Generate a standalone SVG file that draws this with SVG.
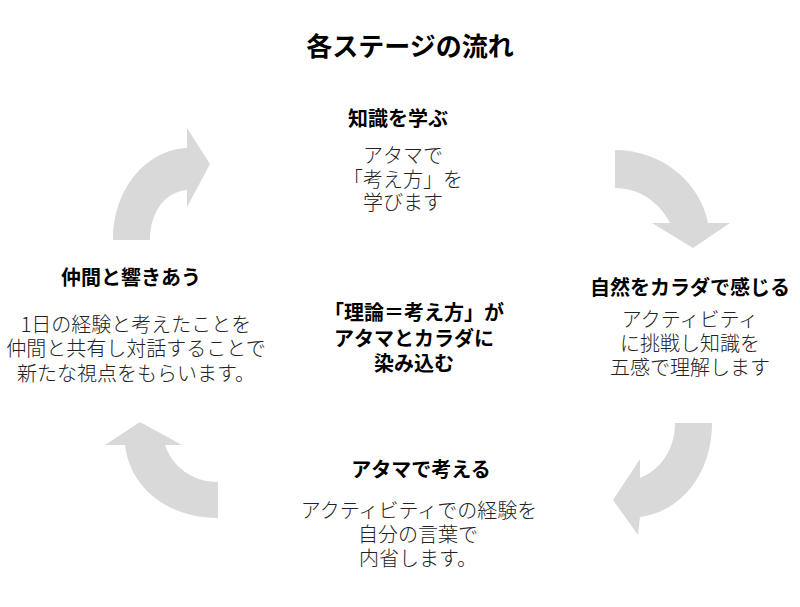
<svg xmlns="http://www.w3.org/2000/svg" width="800" height="607" viewBox="0 0 800 607">
<style>
text{font-family:"Noto Sans CJK JP","Noto Sans CJK SC",sans-serif;text-anchor:middle;fill:#000}
.title{font-size:26px;font-weight:700}
.head{font-size:20px;font-weight:700}
.body{font-size:20px;font-weight:300;fill:#222}
.arrow{fill:#d9d9d9}
</style>
<rect width="800" height="607" fill="#fff"/>
<text class="title" x="410" y="56">各ステージの流れ</text>
<g id="connectors">
<path class="arrow" d="M113,240 C113,190 145,150 187,148 L187,128 L210,164 L187,207 L187,190 C165,192 150,212 150,240 Z"/>
<path class="arrow" d="M615,150 C662,150 700,182 708,223 L730,223 L693,248 L652,223 L670,223 C660,203 640,188 615,188 Z"/>
<path class="arrow" d="M712,423 C712,475 680,512 640,517 L638,535 L613,500 L640,459 L640,478 C660,470 675,450 675,423 Z"/>
<path class="arrow" d="M218,518 C168,518 130,488 125,445 L105,445 L140,422 L182,445 L165,445 C172,466 192,482 218,482 Z"/>
</g>
<g id="node-learn">
<text class="head" x="398" y="125.5">知識を学ぶ</text>
<text class="body" x="403" y="163">アタマで</text>
<text class="body" x="403" y="187">「考え方」を</text>
<text class="body" x="403" y="210">学びます</text>
</g>
<g id="node-feel">
<text class="head" x="690" y="294.5">自然をカラダで感じる</text>
<text class="body" x="690" y="327">アクティビティ</text>
<text class="body" x="690" y="351">に挑戦し知識を</text>
<text class="body" x="690" y="375">五感で理解します</text>
</g>
<g id="node-think">
<text class="head" x="421" y="477">アタマで考える</text>
<text class="body" x="419" y="517.5">アクティビティでの経験を</text>
<text class="body" x="418" y="542">自分の言葉で</text>
<text class="body" x="418" y="566">内省します。</text>
</g>
<g id="node-share">
<text class="head" x="131" y="284.5">仲間と響きあう</text>
<text class="body" x="136" y="331.5">1日の経験と考えたことを</text>
<text class="body" x="136" y="356">仲間と共有し対話することで</text>
<text class="body" x="136" y="380.5">新たな視点をもらいます。</text>
</g>
<g id="node-center">
<text class="head" x="414" y="319.5">「理論＝考え方」が</text>
<text class="head" x="414" y="345.5">アタマとカラダに</text>
<text class="head" x="414" y="370.5">染み込む</text>
</g>
</svg>
